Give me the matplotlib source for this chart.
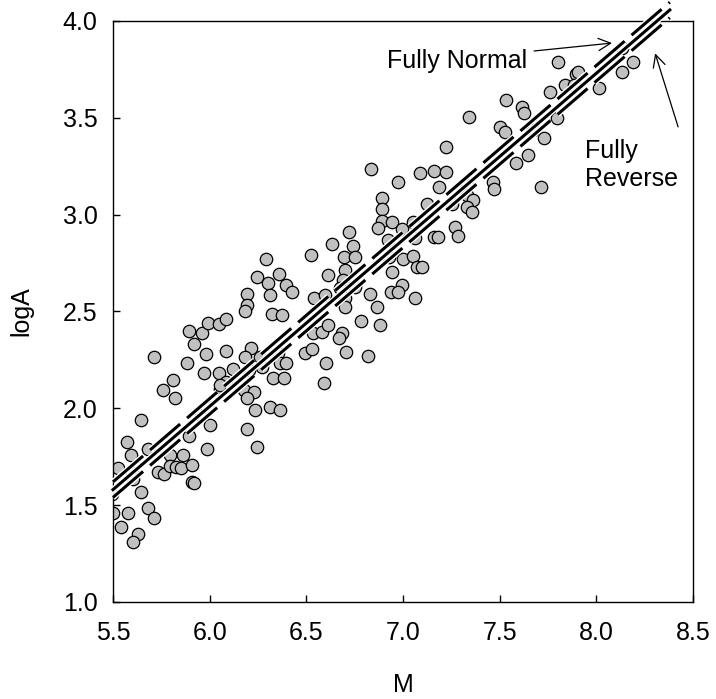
import numpy as np
import matplotlib.pyplot as plt
import matplotlib.patheffects as pe

plt.rcParams['font.family'] = ['Liberation Sans', 'DejaVu Sans']
plt.rcParams['font.size'] = 18

# magnitude and log rupture area
M = [5.571, 5.683, 5.593, 5.795, 5.864, 5.985, 5.893, 5.524, 5.597, 5.605,
     5.731, 5.764, 5.795, 5.824, 5.850, 5.910, 5.907, 5.921, 5.493, 5.643,
     5.500, 5.579, 5.683, 5.712, 5.541, 5.631, 5.602,
     5.712, 5.893, 5.959, 5.993, 6.048, 6.083, 5.921, 5.981, 5.881, 5.972,
     6.048, 5.812, 5.760, 5.821, 6.083, 5.645, 6.002, 5.955, 5.985, 6.054,
     6.291, 6.523, 6.243, 6.360, 6.303, 6.395, 6.424, 6.312, 6.614, 6.195,
     6.192, 6.183, 6.321, 6.373, 6.540, 6.597, 6.533, 6.580, 6.614, 6.493,
     6.528, 6.602, 6.592, 6.212, 6.183, 6.260, 6.269, 6.355, 6.364, 6.395,
     6.205, 6.122, 6.085, 6.054, 6.329, 6.385, 6.179, 6.231, 6.192, 6.235,
     6.312, 6.364, 6.192, 6.243,
     6.833, 6.973, 7.090, 7.161, 7.188, 6.893, 6.893, 7.122, 6.893, 6.945,
     6.872, 6.993, 7.050, 6.722, 6.631, 6.743, 6.922, 7.062, 7.161, 7.183,
     6.695, 6.752, 7.002, 7.050,
     6.930, 7.071, 7.097, 6.700, 6.691, 6.942, 6.674, 6.752, 6.700, 6.830,
     6.993, 6.938, 6.976, 7.062, 6.700, 6.864, 6.781, 6.881, 6.683, 6.671,
     6.704, 6.821,
     7.343, 7.533, 7.614, 7.626, 7.502, 7.528, 7.223, 7.648, 7.583, 7.223,
     7.329, 7.464, 7.473, 7.252, 7.329, 7.360, 7.333, 7.356, 7.269, 7.283,
     8.131, 8.192, 8.131, 7.800, 7.895, 7.905, 7.838, 7.887, 8.014, 7.761,
     7.795, 7.671, 7.731, 7.712]
logA = [1.828, 1.789, 1.759, 1.759, 1.759, 1.789, 1.857, 1.690, 1.665, 1.634,
        1.673, 1.661, 1.703, 1.699, 1.690, 1.708, 1.622, 1.613, 1.558, 1.567,
        1.458, 1.458, 1.484, 1.433, 1.389, 1.352, 1.309,
        2.264, 2.401, 2.391, 2.442, 2.436, 2.460, 2.332, 2.281, 2.236, 2.184,
        2.184, 2.147, 2.095, 2.052, 2.298, 1.940, 1.914, 1.966, 2.006, 2.099,
        2.771, 2.794, 2.680, 2.692, 2.646, 2.637, 2.600, 2.585, 2.689, 2.589,
        2.534, 2.503, 2.487, 2.482, 2.568, 2.585, 2.391, 2.396, 2.430, 2.288,
        2.305, 2.233, 2.130, 2.310, 2.267, 2.267, 2.215, 2.284, 2.233, 2.233,
        2.198, 2.202, 2.138, 2.121, 2.155, 2.155, 2.095, 2.086, 2.052, 1.992,
        2.009, 1.992, 1.894, 1.799,
        3.234, 3.167, 3.214, 3.224, 3.141, 3.088, 3.029, 3.055, 2.969, 2.962,
        2.930, 2.926, 2.964, 2.912, 2.847, 2.840, 2.869, 2.878, 2.886, 2.886,
        2.783, 2.783, 2.770, 2.787,
        2.783, 2.731, 2.728, 2.714, 2.663, 2.706, 2.620, 2.628, 2.568, 2.591,
        2.637, 2.600, 2.600, 2.568, 2.525, 2.522, 2.453, 2.430, 2.388, 2.362,
        2.293, 2.270,
        3.506, 3.592, 3.558, 3.527, 3.454, 3.425, 3.351, 3.308, 3.265, 3.219,
        3.153, 3.170, 3.131, 3.055, 3.102, 3.076, 3.041, 3.015, 2.935, 2.890,
        3.859, 3.790, 3.738, 3.787, 3.726, 3.735, 3.670, 3.670, 3.652, 3.635,
        3.498, 3.437, 3.394, 3.141]

# fitted relations logA = a + b*M
M_fit = np.array([5.5, 8.38])
b_fit = 0.86
a_all = 1.58 - b_fit * 5.5
a_normal = a_all + 0.04
a_reverse = a_all - 0.04

fig = plt.figure(figsize=(7.16, 6.99), dpi=100)
ax = fig.add_axes([0.1578, 0.1388, 0.8101, 0.8312])

ax.scatter(M, logA, s=80, facecolor='#c0c0c0', edgecolor='black',
           linewidth=0.9, zorder=2)

halo = [pe.Stroke(linewidth=4.2, foreground='white'), pe.Normal()]
ax.plot(M_fit, a_all + b_fit * M_fit, color='black', lw=2.2, zorder=3,
        clip_on=False, path_effects=halo)
ax.plot(M_fit, a_normal + b_fit * M_fit, color='black', lw=2.2, zorder=3,
        dashes=(13, 3), clip_on=False, path_effects=halo)
ax.plot(M_fit, a_reverse + b_fit * M_fit, color='black', lw=2.2, zorder=3,
        dashes=(13, 3), clip_on=False, path_effects=halo)

ax.text(7.642, 3.757, 'Fully Normal', ha='right', va='baseline')
ax.annotate('', xy=(8.081, 3.886), xytext=(7.678, 3.845),
            arrowprops=dict(arrowstyle='->', lw=0.9, mutation_scale=22,
                            shrinkA=0, shrinkB=0))
ax.text(7.942, 3.39, 'Fully\nReverse', ha='left', va='top')
ax.annotate('', xy=(8.304, 3.833), xytext=(8.423, 3.453),
            arrowprops=dict(arrowstyle='->', lw=0.9, mutation_scale=22,
                            shrinkA=0, shrinkB=0))

ax.set_xlim(5.5, 8.5)
ax.set_ylim(1.0, 4.0)
ax.set_xticks(np.arange(5.5, 8.51, 0.5))
ax.set_yticks(np.arange(1.0, 4.01, 0.5))
ax.xaxis.set_major_formatter(plt.FormatStrFormatter('%.1f'))
ax.yaxis.set_major_formatter(plt.FormatStrFormatter('%.1f'))
ax.tick_params(direction='in', length=5, width=1, labelsize=18)
ax.tick_params(axis='x', pad=14)
ax.tick_params(axis='y', pad=11)
for s in ax.spines.values():
    s.set_linewidth(1)

ax.set_xlabel('M', fontsize=18)
ax.set_ylabel('logA', fontsize=18)
ax.xaxis.set_label_coords(0.5, -0.122)
ax.yaxis.set_label_coords(-0.138, 0.5)

fig.savefig('out.png', dpi=100)
